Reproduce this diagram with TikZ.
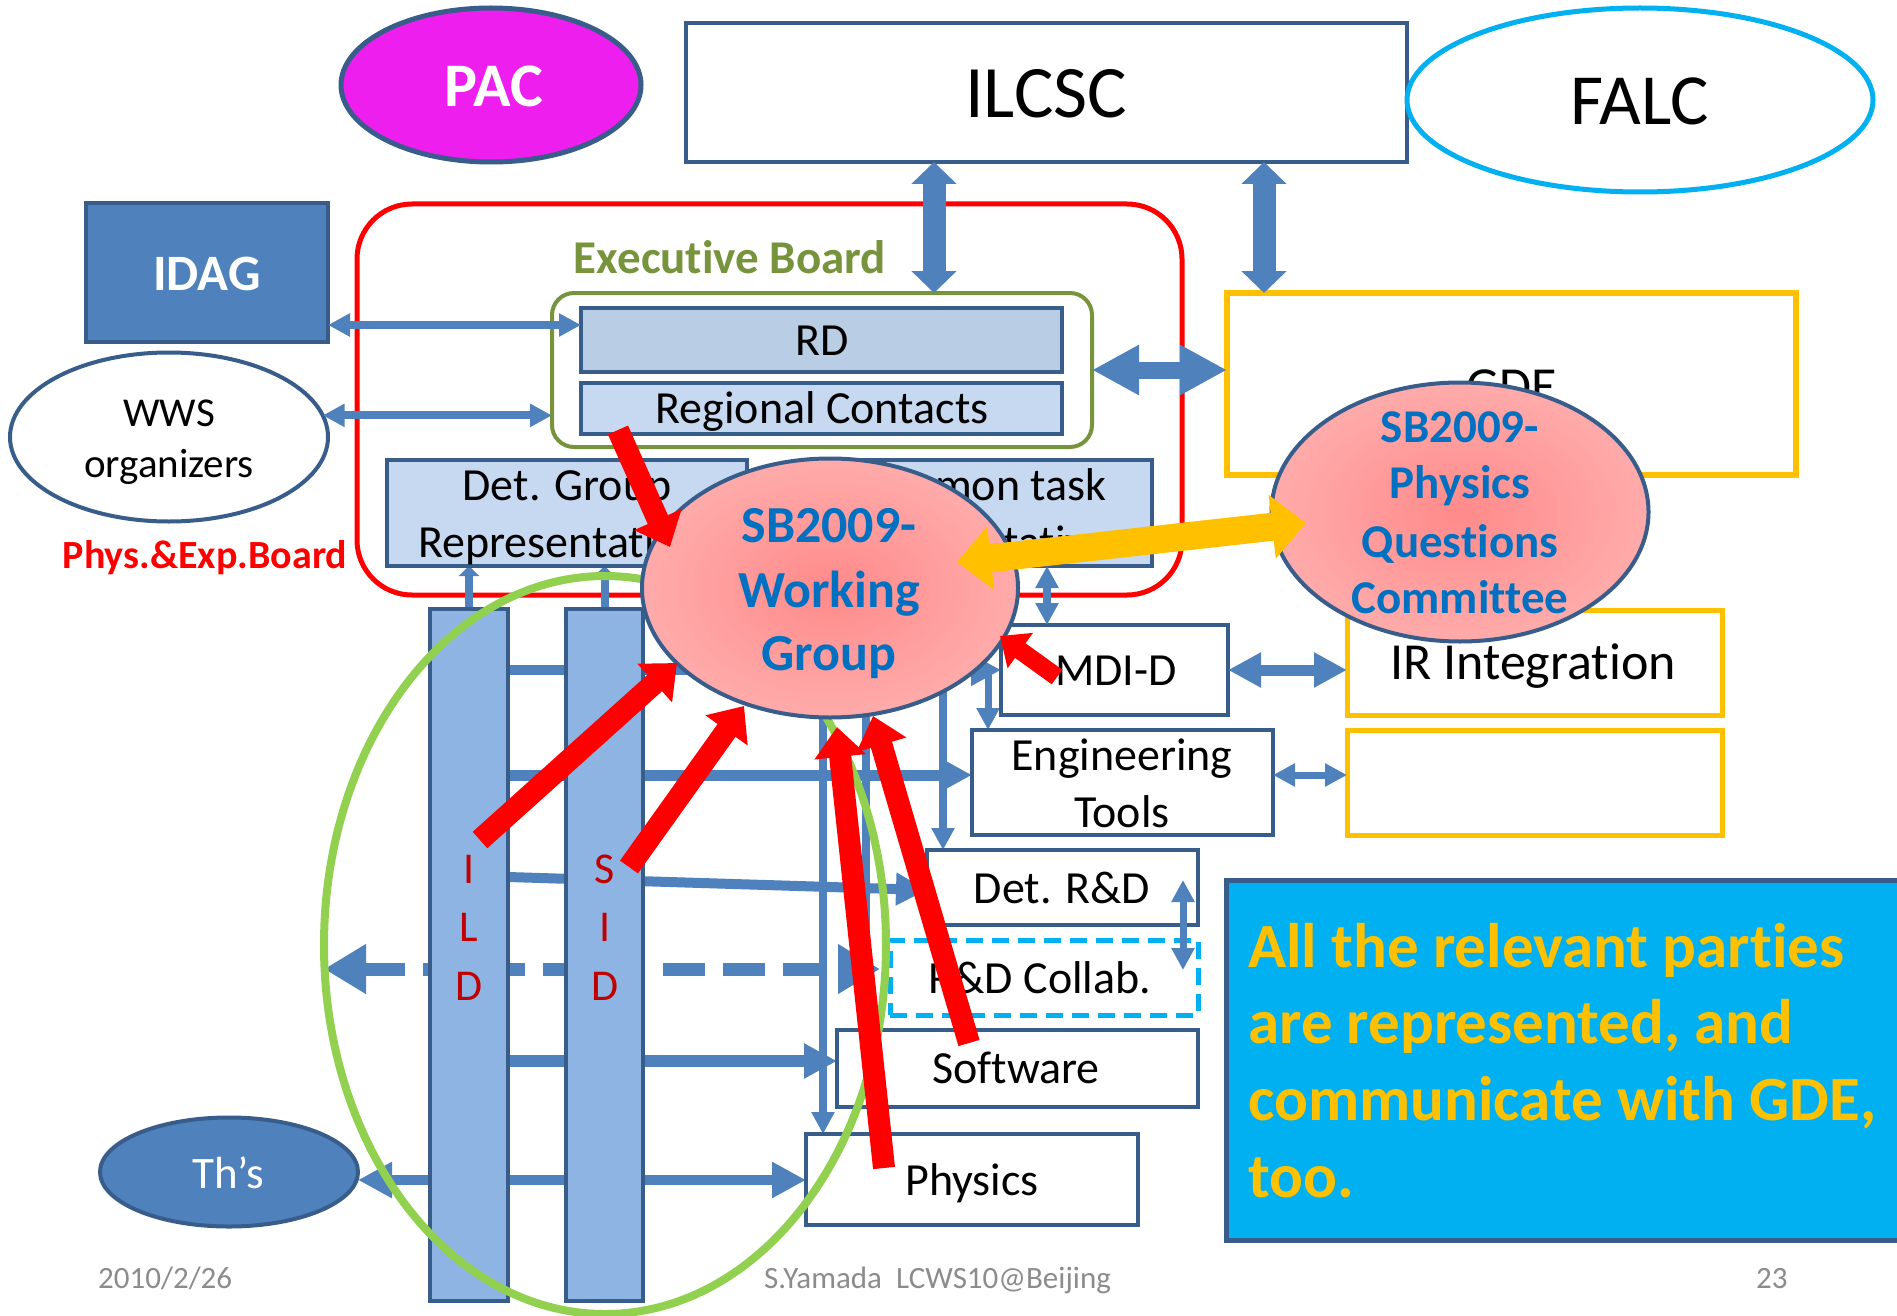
\documentclass[tikz,border=0pt]{standalone}
\usepackage{fontspec}
\setmainfont{Carlito}[Ligatures={NoCommon,NoRare},Contextuals=NoAlternate]
\usetikzlibrary{arrows.meta,shapes.geometric,calc}
\definecolor{bdr}{HTML}{385D8A}
\definecolor{acc}{HTML}{4F81BD}
\definecolor{lbA}{HTML}{B9CDE5}
\definecolor{lbB}{HTML}{C6D9F1}
\definecolor{colb}{HTML}{8EB4E3}
\definecolor{mag}{HTML}{EE1EEE}
\definecolor{cyanb}{HTML}{00B0F0}
\definecolor{orng}{HTML}{FFC000}
\definecolor{olive}{HTML}{77933C}
\definecolor{lgreen}{HTML}{92D050}
\definecolor{wgblue}{HTML}{0070C0}
\definecolor{dred}{HTML}{C00000}
\definecolor{grayf}{HTML}{8C8C8C}
\definecolor{pin}{HTML}{FF8A8A}
\definecolor{pout}{HTML}{FFCCCC}
\pgfdeclareradialshading{pinkshade}{\pgfpoint{0bp}{0bp}}{color(0bp)=(pin); color(50bp)=(pout); color(100bp)=(pout)}
\pgfdeclarelayer{back}
\pgfsetlayers{back,main}
\newcommand\myfs[1]{\fontsize{#1}{#1}\selectfont}
\begin{document}
\begin{tikzpicture}[x=1pt,y=-1pt,
 box/.style={draw=bdr,line width=4.5pt,fill=white,inner sep=0pt,outer sep=0pt},
 ell/.style={ellipse,inner sep=0pt,outer sep=0pt},
 lbl/.style={anchor=base,inner sep=0pt,outer sep=0pt,font=\myfs{46}},
 bl/.style={draw=acc,line width=#1},
 tipA/.style={arrows={-Triangle[length=#1pt,width=#1pt]}},
 tipAA/.style={arrows={Triangle[length=#1pt,width=#1pt]-Triangle[length=#1pt,width=#1pt]}},
 tipB/.style 2 args={arrows={Triangle[length=#1pt,width=#2pt]-Triangle[length=#1pt,width=#2pt]}},
 redarr/.style={draw=red,line width=22pt,arrows={-Triangle[length=30pt,width=50pt]}},
]
\useasboundingbox (0,0) rectangle (1897,1316);
\begin{pgfonlayer}{back}
\fill[white] (0,0) rectangle (1897,1316);
\node[draw=red,line width=5pt,rounded corners=55pt,minimum width=825pt,minimum height=391pt,inner sep=0pt,outer sep=0pt] (peb) at (769.5,399.5) {};
\end{pgfonlayer}

% executive board
\node[draw=olive,line width=4pt,rounded corners=22pt,minimum width=540pt,minimum height=154pt,inner sep=0pt,outer sep=0pt,fill=white] (eb) at (822,370) {};
\node[lbl,text=olive,font=\myfs{47}\bfseries] (ebl) at (730,273) {Executive Board};
\node[box,fill=lbA,minimum width=481pt,minimum height=64pt] (rd) at (821.5,340) {};
\node[lbl] (rdl) at (822,355) {RD};
\node[box,fill=lbB,minimum width=481pt,minimum height=51pt] (rc) at (821.5,408.5) {};
\node[lbl] (rcl) at (822,423) {Regional Contacts};

% top row
\node[box,minimum width=721pt,minimum height=139pt] (ilcsc) at (1046.5,92.5) {};
\node[lbl,font=\myfs{74}] (ilcscl) at (1046,118) {ILCSC};
\node[ell,draw=bdr,line width=5pt,fill=mag,minimum width=300pt,minimum height=154pt] (pac) at (491,85) {};
\node[lbl,text=white,font=\myfs{62}\bfseries] (pacl) at (494,107) {PAC};
\node[ell,draw=cyanb,line width=5pt,fill=white,minimum width=466pt,minimum height=184pt] (falc) at (1640,100) {};
\node[lbl,font=\myfs{72}] (falcl) at (1640,125) {FALC};

% left
\node[box,fill=acc,minimum width=242pt,minimum height=139pt] (idag) at (207,272.5) {};
\node[lbl,text=white,font=\myfs{51}\bfseries] (idagl) at (207,290) {IDAG};
\node[ell,draw=bdr,line width=4pt,fill=white,minimum width=318pt,minimum height=169pt] (wws) at (169,437) {};
\node[lbl,font=\myfs{41}] (wwsa) at (169,426) {WWS};
\node[lbl,font=\myfs{41}] (wwsb) at (169,477) {organizers};
\node[lbl,text=red,font=\myfs{40}\bfseries] (pebl) at (205,568) {Phys.\&Exp.Board};

% GDE
\node[draw=orng,line width=6pt,fill=white,minimum width=569pt,minimum height=182pt,inner sep=0pt,outer sep=0pt] (gde) at (1511.5,384) {};
\node[lbl,font=\myfs{52}] (gdel) at (1512,403) {GDE};

% representative boxes
\node[box,fill=lbB,minimum width=360pt,minimum height=106pt] (dg) at (567,513) {};
\node[lbl] (dga) at (567,500) {Det. Group};
\node[lbl] (dgb) at (567,557) {Representatives};
\node[box,fill=lbB,minimum width=347pt,minimum height=106pt] (ct) at (978.5,513) {};
\node[lbl] (cta) at (978,500) {Common task};
\node[lbl] (ctb) at (978,557) {Representatives};

% columns
\node[draw=bdr,line width=4pt,fill=colb,minimum width=78pt,minimum height=692pt,inner sep=0pt,outer sep=0pt] (ild) at (469,955) {};
\node[draw=bdr,line width=4pt,fill=colb,minimum width=77pt,minimum height=692pt,inner sep=0pt,outer sep=0pt] (sid) at (604.5,955) {};
\node[lbl,text=dred,font=\myfs{44}] (ia) at (469,883) {I};
\node[lbl,text=dred,font=\myfs{44}] (ib) at (469,941) {L};
\node[lbl,text=dred,font=\myfs{44}] (ic) at (469,1000) {D};
\node[lbl,text=dred,font=\myfs{44}] (sa) at (605,883) {S};
\node[lbl,text=dred,font=\myfs{44}] (sb) at (605,941) {I};
\node[lbl,text=dred,font=\myfs{44}] (sc) at (605,1000) {D};

% right boxes
\node[box,minimum width=227pt,minimum height=90pt] (mdi) at (1114.5,670) {};
\node[lbl] (mdil) at (1116,685) {MDI-D};
\node[box,minimum width=301pt,minimum height=105pt] (engt) at (1122.5,782.5) {};
\node[lbl] (engta) at (1122,770) {Engineering};
\node[lbl] (engtb) at (1122,827) {Tools};
\node[box,minimum width=271pt,minimum height=75pt] (detrd) at (1062.5,887.5) {};
\node[lbl] (detrdl) at (1062,903) {Det. R\&D};
\node[draw=cyanb,line width=5pt,dash pattern=on 17pt off 9pt,minimum width=308pt,minimum height=75pt,inner sep=0pt,outer sep=0pt] (rdc) at (1044,977.5) {};
\node[lbl] (rdcl) at (1040,993) {R\&D Collab.};
\node[box,minimum width=361pt,minimum height=77pt] (sw) at (1017.5,1068.5) {};
\node[lbl] (swl) at (1016,1083) {Software};
\node[box,minimum width=332pt,minimum height=91pt] (phys) at (972,1179.5) {};
\node[lbl] (physl) at (972,1195) {Physics};
\node[draw=orng,line width=5pt,fill=white,minimum width=375pt,minimum height=105pt,inner sep=0pt,outer sep=0pt] (ir) at (1534.5,662.5) {};
\node[lbl,font=\myfs{52}] (irl) at (1533,679) {IR Integration};
\node[draw=orng,line width=5pt,fill=white,minimum width=375pt,minimum height=105pt,inner sep=0pt,outer sep=0pt] (emp) at (1534.5,782.5) {};
\node[ell,draw=bdr,line width=4pt,fill=acc,minimum width=258pt,minimum height=109pt] (ths) at (229,1172) {};
\node[lbl,text=white,font=\myfs{45}] (thsl) at (228,1188) {Th’s};

% green group ellipse
\node[ell,draw=lgreen,line width=8pt,minimum width=562pt,minimum height=738pt] (gell) at (605,945) {};

% connectors on main layer
\draw[bl=23pt,tipB={22}{44}] (ilcsc.south -| 934,0) -- (eb.north -| 934,0);
\draw[bl=23pt,tipB={22}{44}] (ilcsc.south -| 1264,0) -- (gde.north -| 1264,0);
\draw[bl=17pt,tipB={47}{47}] (eb.east |- 0,370) -- (gde.west |- 0,370);
\draw[bl=8pt,tipAA=22] (idag.east |- 0,325) -- (rd.west |- 0,325);
\draw[bl=8pt,tipAA=22] (wws.8) -- (eb.west |- wws.8);
\draw[bl=8pt,tipAA=22] (ct.south -| 1047,0) -- (mdi.north -| 1047,0);
\draw[bl=11pt,tipAA=33] (mdi.east) -- (ir.west |- mdi.east);
\draw[bl=7pt,tipAA=22] (engt.east |- 0,775) -- (emp.west |- 0,775);
\draw[bl=7pt,tipAA=22] ($(detrd.center -| 1183,0)+(0,-7.5)$) -- ($(rdc.center -| 1183,0)+(0,-7.5)$);

% working group and physics questions committee
\node[ell,draw=bdr,line width=4pt,shade,shading=pinkshade,minimum width=376pt,minimum height=259pt] (wg) at (830,588) {};
\node[lbl,text=wgblue,font=\myfs{52}\bfseries] (wga) at (829,542) {SB2009-};
\node[lbl,text=wgblue,font=\myfs{52}\bfseries] (wgb) at (829,607) {Working};
\node[lbl,text=wgblue,font=\myfs{52}\bfseries] (wgc) at (829,670) {Group};
\node[ell,draw=bdr,line width=4pt,shade,shading=pinkshade,minimum width=377pt,minimum height=259pt] (pqc) at (1460,512) {};
\node[lbl,text=wgblue,font=\myfs{47}\bfseries] (pqa) at (1460,442) {SB2009-};
\node[lbl,text=wgblue,font=\myfs{47}\bfseries] (pqb) at (1460,498) {Physics};
\node[lbl,text=wgblue,font=\myfs{47}\bfseries] (pqd) at (1460,557) {Questions};
\node[lbl,text=wgblue,font=\myfs{47}\bfseries] (pqe) at (1460,613) {Committee};

% connectors under columns / ellipses
\begin{pgfonlayer}{back}
\draw[bl=10pt,tipA=30] (ild.east |- 0,670) -- (mdi.west |- 0,670);
\draw[bl=11pt,tipA=33] (ild.east |- 0,775) -- (engt.west |- 0,775);
\draw[bl=10pt,tipA=31] (ild.east |- 0,877) -- (detrd.west |- 0,890);
\draw[bl=13pt,dash pattern=on 42pt off 18pt,tipB={42}{47}] (gell.west |- 0,969) -- ($(rdc.west |- 0,969)+(-10,0)$);
\draw[bl=12pt,tipA=33] (ild.east |- 0,1061) -- (sw.west |- 0,1061);
\draw[bl=10pt,tipAA=34] (ths.east |- 0,1180) -- (phys.west |- 0,1180);
\draw[bl=8pt,tipA=22] (wg.center -| 823,0) -- (phys.north -| 823,0);
\draw[bl=8pt] (wg.center -| 866,0) -- (rdc.center -| 866,0);
\draw[bl=8pt,tipA=22] (wg.center -| 943,0) -- (detrd.north -| 943,0);
\draw[bl=7pt,tipA=22] (mdi.center -| 988,0) -- (engt.north -| 988,0);
\draw[bl=8pt,arrows={-Triangle[length=10pt,width=20pt]}] (ild.north) -- (dg.south -| ild.north);
\draw[bl=8pt,arrows={-Triangle[length=10pt,width=20pt]}] (sid.north) -- (dg.south -| sid.north);
\end{pgfonlayer}

% yellow and red arrows
\draw[draw=orng,line width=28pt,tipB={34}{62}] ($(wg.center)+(127,-26)$) -- ($(pqc.center)+(-154,11)$);
\draw[redarr] ($(rc.south west)+(37,-4)$) -- ($(wg.center)+(-160,-41)$);
\draw[redarr] ($(ild.center)+(11,-115)$) -- ($(wg.center)+(-153,75)$);
\draw[redarr] ($(sid.center)+(24.5,-88)$) -- ($(wg.center)+(-86,118)$);
\draw[redarr] ($(phys.center)+(-88,-11.5)$) -- ($(wg.center)+(7,139)$);
\draw[redarr] ($(sw.center)+(-48.5,-25.5)$) -- ($(wg.center)+(43,128)$);
\draw[redarr,line width=18pt,arrows={-Triangle[length=25pt,width=42pt]}] ($(mdi.center)+(-57.5,7)$) -- ($(wg.center)+(170,48)$);

% note box
\node[draw=bdr,line width=5pt,fill=cyanb,minimum width=690pt,minimum height=360pt,inner sep=0pt,outer sep=0pt,anchor=north west] (note) at (1226,880) {};
\node[anchor=base west,inner sep=0pt,text=orng,font=\myfs{63}\bfseries] (na) at (1248,967) {All the relevant parties};
\node[anchor=base west,inner sep=0pt,text=orng,font=\myfs{63}\bfseries] (nb) at (1248,1043) {are represented, and};
\node[anchor=base west,inner sep=0pt,text=orng,font=\myfs{63}\bfseries] (nc) at (1248,1120) {communicate with GDE,};
\node[anchor=base west,inner sep=0pt,text=orng,font=\myfs{63}\bfseries] (nd) at (1248,1197) {too.};

% footer
\node[anchor=base west,inner sep=0pt,text=grayf,font=\myfs{31}] (fa) at (98,1288) {2010/2/26};
\node[anchor=base west,inner sep=0pt,text=grayf,font=\myfs{31}] (fb) at (764,1288) {S.Yamada\ \ LCWS10@Beijing};
\node[anchor=base west,inner sep=0pt,text=grayf,font=\myfs{31}] (fc) at (1756,1288) {23};
\end{tikzpicture}
\end{document}
